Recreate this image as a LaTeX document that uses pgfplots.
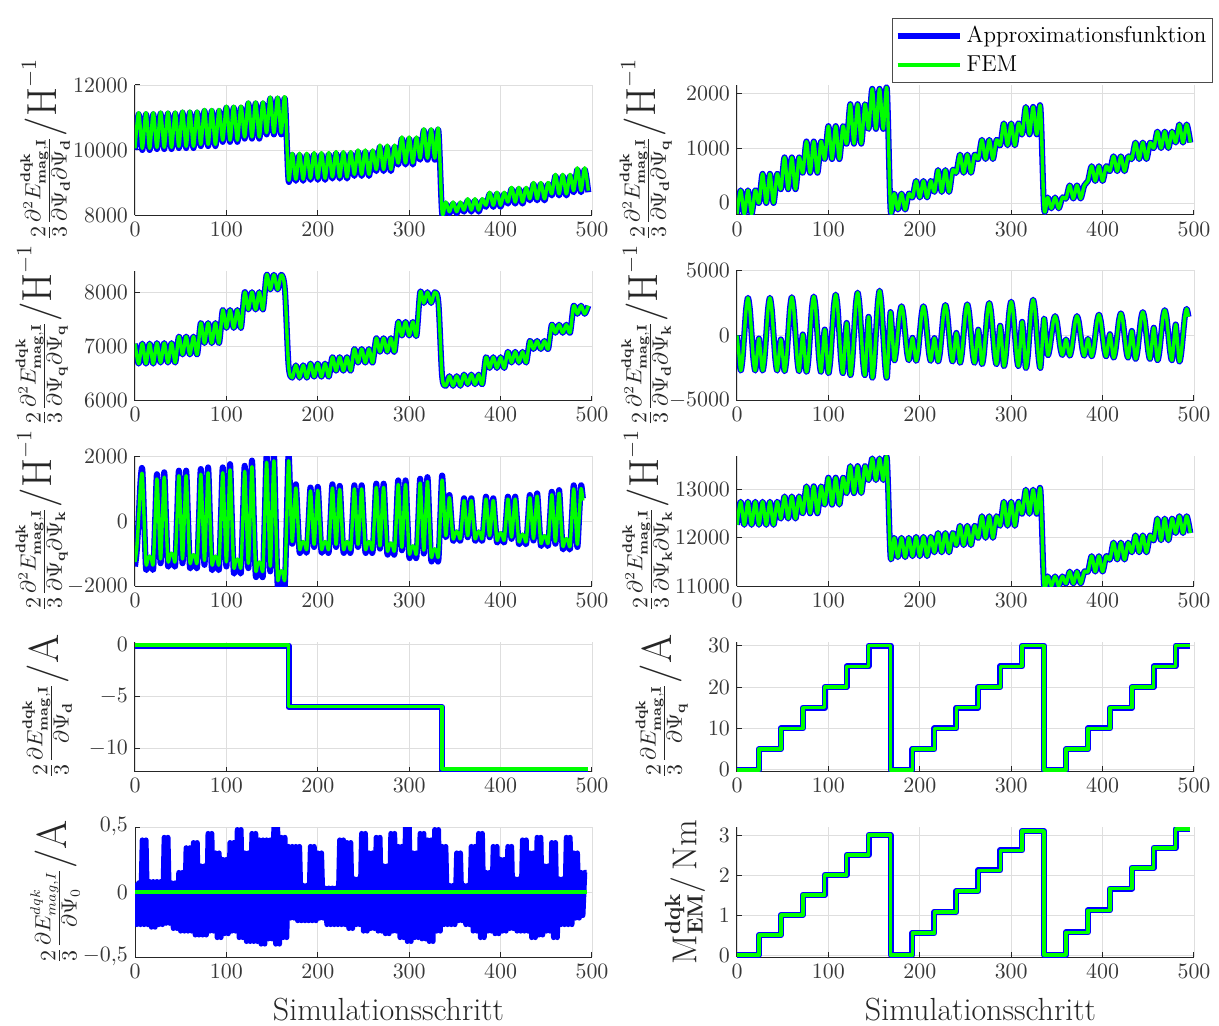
\documentclass[border=0pt]{standalone}
\usepackage{pgfplots}
\pgfplotsset{compat=1.18}
\usepackage{pgfplotstable}
\usepgfplotslibrary{groupplots}
\usetikzlibrary{calc}
\definecolor{mblue}{rgb}{0,0,1}
\definecolor{mgreen}{rgb}{0,1,0}
\definecolor{axgray}{rgb}{0.15,0.15,0.15}
\pgfplotsset{approx/.style={mblue, line width=3pt, line join=round},
  fem/.style={mgreen, line width=1.7pt, line join=round},
  ylpos/.style={ylabel style={at={($(rel axis cs:0,0.5)+(-#1,0pt)$)}, anchor=south}}}
\newcommand{\perH}{{\fontsize{21}{21}\selectfont/H}\raisebox{1.6ex}{$\scriptstyle-1$}}
\newcommand{\perA}{{\fontsize{21}{21}\selectfont/A}}

% Psi_d Psi_d
\pgfplotstableread[row sep=\\]{x a f\\
0 10000 10050\\4 11100 11150\\8 10000 10050\\12 11100 11150\\16 10000 10050\\20 11100 11150\\
24 10030 10080\\28 11120 11170\\32 10030 10080\\36 11120 11170\\40 10030 10080\\44 11120 11170\\
48 10060 10110\\52 11150 11200\\56 10060 10110\\60 11150 11200\\64 10060 10110\\68 11150 11200\\
72 10120 10170\\76 11200 11250\\80 10120 10170\\84 11200 11250\\88 10120 10170\\92 11200 11250\\
96 10250 10300\\100 11300 11350\\104 10250 10300\\108 11300 11350\\112 10250 10300\\116 11300 11350\\
120 10350 10400\\124 11430 11480\\128 10350 10400\\132 11430 11480\\136 10350 10400\\140 11430 11480\\
144 10480 10530\\148 11580 11630\\152 10480 10530\\156 11580 11630\\160 10480 10530\\164 11580 11630\\
168 9050 9100\\172 9850 9900\\176 9050 9100\\180 9850 9900\\184 9050 9100\\188 9850 9900\\
192 9080 9130\\196 9870 9920\\200 9080 9130\\204 9870 9920\\208 9080 9130\\212 9870 9920\\
216 9120 9170\\220 9900 9950\\224 9120 9170\\228 9900 9950\\232 9120 9170\\236 9900 9950\\
240 9200 9250\\244 9950 10000\\248 9200 9250\\252 9950 10000\\256 9200 9250\\260 9950 10000\\
264 9350 9400\\268 10100 10150\\272 9350 9400\\276 10100 10150\\280 9350 9400\\284 10100 10150\\
288 9550 9600\\292 10350 10400\\296 9550 9600\\300 10350 10400\\304 9550 9600\\308 10350 10400\\
312 9700 9750\\316 10600 10650\\320 9700 9750\\324 10600 10650\\328 9700 9750\\332 10600 10650\\
336 8050 8100\\340 8350 8400\\344 8050 8100\\348 8350 8400\\352 8050 8100\\356 8350 8400\\
360 8100 8150\\364 8450 8500\\368 8100 8150\\372 8450 8500\\376 8100 8150\\380 8450 8500\\
384 8250 8300\\388 8650 8700\\392 8250 8300\\396 8650 8700\\400 8250 8300\\404 8650 8700\\
408 8350 8400\\412 8800 8850\\416 8350 8400\\420 8800 8850\\424 8350 8400\\428 8800 8850\\
432 8450 8500\\436 8950 9000\\440 8450 8500\\444 8950 9000\\448 8450 8500\\452 8950 9000\\
456 8600 8650\\460 9200 9250\\464 8600 8650\\468 9200 9250\\472 8600 8650\\476 9200 9250\\
480 8700 8750\\484 9400 9450\\488 8700 8750\\492 9400 9450\\496 8700 8750\\
}\tRA

% Psi_d Psi_q
\pgfplotstableread[row sep=\\]{x a\\
0 -200\\4 230\\8 -200\\12 230\\16 -200\\20 230\\
24 0\\28 530\\32 0\\36 530\\40 0\\44 530\\
48 250\\52 830\\56 250\\60 830\\64 250\\68 830\\
72 550\\76 1120\\80 550\\84 1120\\88 550\\92 1120\\
96 800\\100 1400\\104 800\\108 1400\\112 800\\116 1400\\
120 1080\\124 1800\\128 1080\\132 1800\\136 1080\\140 1800\\
144 1350\\148 2080\\152 1350\\156 2080\\160 1350\\164 2080\\
168 -120\\172 170\\176 -120\\180 170\\184 -120\\188 170\\
192 100\\196 400\\200 100\\204 400\\208 100\\212 400\\
216 200\\220 600\\224 200\\228 600\\232 200\\236 600\\
240 550\\244 880\\248 550\\252 880\\256 550\\260 880\\
264 800\\268 1150\\272 800\\276 1150\\280 800\\284 1150\\
288 1050\\292 1450\\296 1050\\300 1450\\304 1050\\308 1450\\
312 1250\\316 1750\\320 1250\\324 1750\\328 1250\\332 1750\\
336 -100\\340 100\\344 -100\\348 100\\352 -100\\356 100\\
360 80\\364 320\\368 80\\372 320\\376 80\\380 320\\
384 400\\388 670\\392 400\\396 670\\400 400\\404 670\\
408 580\\412 850\\416 580\\420 850\\424 580\\428 850\\
432 800\\436 1100\\440 800\\444 1100\\448 800\\452 1100\\
456 1000\\460 1300\\464 1000\\468 1300\\472 1000\\476 1300\\
480 1100\\484 1430\\488 1100\\492 1430\\496 1100\\
}\tRB

% Psi_q Psi_q
\pgfplotstableread[row sep=\\]{x a\\
0 7050\\4 6680\\8 7050\\12 6680\\16 7050\\20 6680\\
24 7060\\28 6700\\32 7060\\36 6700\\40 7060\\44 6700\\
48 7180\\52 6850\\56 7180\\60 6850\\64 7180\\68 6850\\
72 7430\\76 7060\\80 7430\\84 7060\\88 7430\\92 7060\\
96 7670\\100 7340\\104 7670\\108 7340\\112 7670\\116 7340\\
120 8000\\124 7680\\128 8000\\132 7680\\136 8000\\140 7680\\
144 8320\\148 8050\\152 8320\\156 8050\\160 8320\\164 8050\\
168 6650\\172 6420\\176 6650\\180 6420\\184 6650\\188 6420\\
192 6680\\196 6440\\200 6680\\204 6440\\208 6680\\212 6440\\
216 6800\\220 6550\\224 6800\\228 6550\\232 6800\\236 6550\\
240 6950\\244 6700\\248 6950\\252 6700\\256 6950\\260 6700\\
264 7150\\268 6900\\272 7150\\276 6900\\280 7150\\284 6900\\
288 7450\\292 7200\\296 7450\\300 7200\\304 7450\\308 7200\\
312 8000\\316 7800\\320 8000\\324 7800\\328 8000\\332 7800\\
336 6450\\340 6270\\344 6450\\348 6270\\352 6450\\356 6270\\
360 6480\\364 6300\\368 6480\\372 6300\\376 6480\\380 6300\\
384 6800\\388 6600\\392 6800\\396 6600\\400 6800\\404 6600\\
408 6900\\412 6700\\416 6900\\420 6700\\424 6900\\428 6700\\
432 7100\\436 6950\\440 7100\\444 6950\\448 7100\\452 6950\\
456 7400\\460 7250\\464 7400\\468 7250\\472 7400\\476 7250\\
480 7750\\484 7600\\488 7750\\492 7600\\496 7750\\
}\tRC

% Psi_d Psi_k
\pgfplotstableread[row sep=\\]{x a\\
0 0\\2 -1350\\4 -2700\\6 -1860\\8 100\\10 2060\\12 2900\\14 2060\\16 100\\18 -1860\\20 -2700\\22 -1465\\
24 -230\\26 -1465\\28 -2700\\30 -1860\\32 100\\34 2060\\36 2900\\38 2060\\40 100\\42 -1860\\44 -2700\\46 -1500\\
48 -300\\50 -1525\\52 -2750\\54 -1895\\56 100\\58 2095\\60 2950\\62 2095\\64 100\\66 -1895\\68 -2750\\70 -1335\\
72 80\\74 -1360\\76 -2800\\78 -1930\\80 100\\82 2130\\84 3000\\86 2130\\88 100\\90 -1930\\92 -2800\\94 -1170\\
96 460\\98 -1220\\100 -2900\\102 -1992\\104 125\\106 2243\\108 3150\\110 2243\\112 125\\114 -1992\\116 -2900\\118 -965\\
120 970\\122 -1040\\124 -3050\\126 -2097\\128 125\\130 2348\\132 3300\\134 2348\\136 125\\138 -2097\\140 -3050\\142 -805\\
144 1440\\146 -905\\148 -3250\\150 -2245\\152 100\\154 2445\\156 3450\\158 2445\\160 100\\162 -2245\\164 -3250\\166 -725\\
168 1800\\170 -50\\172 -1900\\174 -1277\\176 175\\178 1628\\180 2250\\182 1628\\184 175\\186 -1277\\188 -1900\\190 -1040\\
192 -180\\194 -1065\\196 -1950\\198 -1320\\200 150\\202 1620\\204 2250\\206 1620\\208 150\\210 -1320\\212 -1950\\214 -1075\\
216 -200\\218 -1100\\220 -2000\\222 -1347\\224 175\\226 1698\\228 2350\\230 1698\\232 175\\234 -1347\\236 -2000\\238 -900\\
240 200\\242 -950\\244 -2100\\246 -1425\\248 150\\250 1725\\252 2400\\254 1725\\256 150\\258 -1425\\260 -2100\\262 -825\\
264 450\\266 -875\\268 -2200\\270 -1495\\272 150\\274 1795\\276 2500\\278 1795\\280 150\\282 -1495\\284 -2200\\286 -725\\
288 750\\290 -800\\292 -2350\\294 -1607\\296 125\\298 1858\\300 2600\\302 1858\\304 125\\306 -1607\\308 -2350\\310 -650\\
312 1050\\314 -725\\316 -2500\\318 -1712\\320 125\\322 1963\\324 2750\\326 1963\\328 125\\330 -1712\\332 -2500\\334 -600\\
336 1300\\338 -100\\340 -1500\\342 -1050\\344 0\\346 1050\\348 1500\\350 1050\\352 0\\354 -1050\\356 -1500\\358 -900\\
360 -300\\362 -925\\364 -1550\\366 -1092\\368 -25\\370 1043\\372 1500\\374 1043\\376 -25\\378 -1092\\380 -1550\\382 -900\\
384 -250\\386 -925\\388 -1600\\390 -1120\\392 0\\394 1120\\396 1600\\398 1120\\400 0\\402 -1120\\404 -1600\\406 -750\\
408 100\\410 -800\\412 -1700\\414 -1190\\416 0\\418 1190\\420 1700\\422 1190\\424 0\\426 -1190\\428 -1700\\430 -675\\
432 350\\434 -725\\436 -1800\\438 -1260\\440 0\\442 1260\\444 1800\\446 1260\\448 0\\450 -1260\\452 -1800\\454 -600\\
456 600\\458 -650\\460 -1900\\462 -1322\\464 25\\466 1373\\468 1950\\470 1373\\472 25\\474 -1322\\476 -1900\\478 -525\\
480 850\\482 -575\\484 -2000\\486 -1392\\488 25\\490 1443\\492 2050\\494 1443\\
}\tRD

% Psi_q Psi_k
\pgfplotstableread[row sep=\\]{x a f\\
0 -1400 -1260\\2 -900 -810\\4 100 90\\6 1200 1080\\8 1600 1440\\10 75 70\\12 -1450 -1305\\14 -1300 -1170\\16 -1200 -1080\\18 -1300 -1170\\20 -1450 -1305\\22 -5 -5\\
24 1440 1296\\26 70 63\\28 -1300 -1170\\30 100 90\\32 1500 1350\\34 75 68\\36 -1350 -1215\\38 -1200 -1080\\40 -1100 -990\\42 -1200 -1080\\44 -1350 -1215\\46 100 90\\
48 1550 1395\\50 125 113\\52 -1300 -1170\\54 125 113\\56 1550 1395\\58 75 68\\60 -1400 -1260\\62 -1250 -1125\\64 -1150 -1035\\66 -1250 -1125\\68 -1400 -1260\\70 100 90\\
72 1600 1440\\74 125 113\\76 -1350 -1215\\78 150 135\\80 1650 1485\\82 100 90\\84 -1450 -1305\\86 -1300 -1170\\88 -1200 -1080\\90 -1300 -1170\\92 -1450 -1305\\94 100 90\\
96 1650 1485\\98 125 113\\100 -1400 -1260\\102 175 158\\104 1750 1575\\106 100 90\\108 -1550 -1395\\110 -1400 -1260\\112 -1300 -1170\\114 -1400 -1260\\116 -1550 -1395\\118 75 68\\
120 1700 1530\\122 125 113\\124 -1450 -1305\\126 205 185\\128 1860 1674\\130 105 95\\132 -1650 -1485\\134 -1500 -1350\\136 -1400 -1260\\138 -1500 -1350\\140 -1650 -1485\\142 180 162\\
144 2010 1809\\146 230 207\\148 -1550 -1395\\150 255 230\\152 2060 1854\\154 55 50\\156 -1950 -1755\\158 -1800 -1620\\160 -1700 -1530\\162 -1800 -1620\\164 -1950 -1755\\166 55 50\\
168 2060 1854\\170 680 612\\172 -700 -630\\174 215 194\\176 1130 1017\\178 90 81\\180 -950 -855\\182 -800 -720\\184 -700 -630\\186 -800 -720\\188 -950 -855\\190 40 36\\
192 1030 927\\194 115 104\\196 -800 -720\\198 125 113\\200 1050 945\\202 50 45\\204 -950 -855\\206 -800 -720\\208 -700 -630\\210 -800 -720\\212 -950 -855\\214 90 81\\
216 1130 1017\\218 165 149\\220 -800 -720\\222 140 126\\224 1080 972\\226 65 59\\228 -950 -855\\230 -800 -720\\232 -700 -630\\234 -800 -720\\236 -950 -855\\238 75 68\\
240 1100 990\\242 150 135\\244 -800 -720\\246 150 135\\248 1100 990\\250 75 68\\252 -950 -855\\254 -800 -720\\256 -700 -630\\258 -800 -720\\260 -950 -855\\262 100 90\\
264 1150 1035\\266 150 135\\268 -850 -765\\270 150 135\\272 1150 1035\\274 75 68\\276 -1000 -900\\278 -850 -765\\280 -750 -675\\282 -850 -765\\284 -1000 -900\\286 125 113\\
288 1250 1125\\290 175 158\\292 -900 -810\\294 175 158\\296 1250 1125\\298 75 68\\300 -1100 -990\\302 -950 -855\\304 -850 -765\\306 -950 -855\\308 -1100 -990\\310 100 90\\
312 1300 1170\\314 150 135\\316 -1000 -900\\318 175 158\\320 1350 1215\\322 75 68\\324 -1200 -1080\\326 -1050 -945\\328 -950 -855\\330 -1050 -945\\332 -1200 -1080\\334 100 90\\
336 1400 1260\\338 450 405\\340 -500 -450\\342 150 135\\344 800 720\\346 100 90\\348 -600 -540\\350 -450 -405\\352 -350 -315\\354 -450 -405\\356 -600 -540\\358 50 45\\
360 700 630\\362 100 90\\364 -500 -450\\366 100 90\\368 700 630\\370 50 45\\372 -600 -540\\374 -450 -405\\376 -350 -315\\378 -450 -405\\380 -600 -540\\382 75 68\\
384 750 675\\386 125 113\\388 -500 -450\\390 100 90\\392 700 630\\394 25 23\\396 -650 -585\\398 -500 -450\\400 -400 -360\\402 -500 -450\\404 -650 -585\\406 50 45\\
408 750 675\\410 100 90\\412 -550 -495\\414 100 90\\416 750 675\\418 25 23\\420 -700 -630\\422 -550 -495\\424 -450 -405\\426 -550 -495\\428 -700 -630\\430 50 45\\
432 800 720\\434 100 90\\436 -600 -540\\438 125 113\\440 850 765\\442 50 45\\444 -750 -675\\446 -600 -540\\448 -500 -450\\450 -600 -540\\452 -750 -675\\454 75 68\\
456 900 810\\458 100 90\\460 -700 -630\\462 125 113\\464 950 855\\466 50 45\\468 -850 -765\\470 -700 -630\\472 -600 -540\\474 -700 -630\\476 -850 -765\\478 125 113\\
480 1100 990\\482 150 135\\484 -800 -720\\486 150 135\\488 1100 990\\490 700 630\\
}\tRE

% Psi_k Psi_k
\pgfplotstableread[row sep=\\]{x a\\
0 12270\\4 12750\\8 12270\\12 12750\\16 12270\\20 12750\\
24 12270\\28 12750\\32 12270\\36 12750\\40 12270\\44 12750\\
48 12400\\52 12860\\56 12400\\60 12860\\64 12400\\68 12860\\
72 12510\\76 13070\\80 12510\\84 13070\\88 12510\\92 13070\\
96 12690\\100 13250\\104 12690\\108 13250\\112 12690\\116 13250\\
120 12930\\124 13490\\128 12930\\132 13490\\136 12930\\140 13490\\
144 13200\\148 13650\\152 13200\\156 13650\\160 13200\\164 13650\\
168 11600\\172 12000\\176 11600\\180 12000\\184 11600\\188 12000\\
192 11620\\196 12020\\200 11620\\204 12020\\208 11620\\212 12020\\
216 11700\\220 12100\\224 11700\\228 12100\\232 11700\\236 12100\\
240 11850\\244 12250\\248 11850\\252 12250\\256 11850\\260 12250\\
264 12000\\268 12450\\272 12000\\276 12450\\280 12000\\284 12450\\
288 12250\\292 12750\\296 12250\\300 12750\\304 12250\\308 12750\\
312 12500\\316 13000\\320 12500\\324 13000\\328 12500\\332 13000\\
336 11000\\340 11200\\344 11000\\348 11200\\352 11000\\356 11200\\
360 11050\\364 11300\\368 11050\\372 11300\\376 11050\\380 11300\\
384 11300\\388 11620\\392 11300\\396 11620\\400 11300\\404 11620\\
408 11550\\412 11900\\416 11550\\420 11900\\424 11550\\428 11900\\
432 11700\\436 12050\\440 11700\\444 12050\\448 11700\\452 12050\\
456 11950\\460 12400\\464 11950\\468 12400\\472 11950\\476 12400\\
480 12100\\484 12450\\488 12100\\492 12450\\496 12100\\
}\tRF

% Psi_0 first derivative (approximation)
\pgfplotstableread[row sep=\\]{x a\\
0 0.07\\2 -0.25\\4 0.07\\6 -0.25\\8 0.40\\10 -0.25\\12 0.40\\14 -0.25\\
16 0.08\\18 -0.27\\20 0.08\\22 -0.27\\24 0.08\\26 -0.25\\28 0.08\\30 -0.25\\
32 0.42\\34 -0.24\\36 0.42\\38 -0.24\\40 0.07\\42 -0.28\\44 0.07\\46 -0.28\\
48 0.15\\50 -0.30\\52 0.15\\54 -0.30\\56 0.34\\58 -0.30\\60 0.34\\62 -0.30\\
64 0.38\\66 -0.33\\68 0.38\\70 -0.33\\72 0.20\\74 -0.33\\76 0.20\\78 -0.33\\
80 0.45\\82 -0.30\\84 0.45\\86 -0.30\\88 0.30\\90 -0.35\\92 0.30\\94 -0.35\\
96 0.25\\98 -0.32\\100 0.25\\102 -0.32\\104 0.38\\106 -0.30\\108 0.38\\110 -0.30\\
112 0.48\\114 -0.35\\116 0.48\\118 -0.35\\120 0.30\\122 -0.38\\124 0.30\\126 -0.38\\
128 0.45\\130 -0.38\\132 0.45\\134 -0.38\\136 0.40\\138 -0.40\\140 0.40\\142 -0.40\\
144 0.40\\146 -0.36\\148 0.40\\150 -0.36\\152 0.50\\154 -0.40\\156 0.50\\158 -0.40\\
160 0.42\\162 -0.35\\164 0.42\\166 -0.35\\168 0.35\\170 -0.20\\172 0.35\\174 -0.20\\
176 0.35\\178 -0.22\\180 0.35\\182 -0.22\\184 0.05\\186 -0.22\\188 0.05\\190 -0.22\\
192 0.35\\194 -0.22\\196 0.35\\198 -0.22\\200 0.30\\202 -0.20\\204 0.30\\206 -0.20\\
208 0.03\\210 -0.25\\212 0.03\\214 -0.25\\216 0.03\\218 -0.25\\220 0.03\\222 -0.25\\
224 0.40\\226 -0.25\\228 0.40\\230 -0.25\\232 0.38\\234 -0.28\\236 0.38\\238 -0.28\\
240 0.10\\242 -0.25\\244 0.10\\246 -0.25\\248 0.45\\250 -0.30\\252 0.45\\254 -0.30\\
256 0.30\\258 -0.28\\260 0.30\\262 -0.28\\264 0.42\\266 -0.30\\268 0.42\\270 -0.30\\
272 0.20\\274 -0.32\\276 0.20\\278 -0.32\\280 0.45\\282 -0.30\\284 0.45\\286 -0.30\\
288 0.35\\290 -0.35\\292 0.35\\294 -0.35\\296 0.50\\298 -0.38\\300 0.50\\302 -0.38\\
304 0.30\\306 -0.35\\308 0.30\\310 -0.35\\312 0.45\\314 -0.36\\316 0.45\\318 -0.36\\
320 0.40\\322 -0.38\\324 0.40\\326 -0.38\\328 0.48\\330 -0.30\\332 0.48\\334 -0.30\\
336 0.35\\338 -0.25\\340 0.35\\342 -0.25\\344 0.05\\346 -0.25\\348 0.05\\350 -0.25\\
352 0.30\\354 -0.22\\356 0.30\\358 -0.22\\360 0.05\\362 -0.25\\364 0.05\\366 -0.25\\
368 0.35\\370 -0.30\\372 0.35\\374 -0.30\\376 0.45\\378 -0.35\\380 0.45\\382 -0.35\\
384 0.15\\386 -0.30\\388 0.15\\390 -0.30\\392 0.35\\394 -0.32\\396 0.35\\398 -0.32\\
400 0.25\\402 -0.30\\404 0.25\\406 -0.30\\408 0.35\\410 -0.28\\412 0.35\\414 -0.28\\
416 0.10\\418 -0.30\\420 0.10\\422 -0.30\\424 0.40\\426 -0.30\\428 0.40\\430 -0.30\\
432 0.30\\434 -0.35\\436 0.30\\438 -0.35\\440 0.42\\442 -0.33\\444 0.42\\446 -0.33\\
448 0.20\\450 -0.30\\452 0.20\\454 -0.30\\456 0.38\\458 -0.35\\460 0.38\\462 -0.35\\
464 0.10\\466 -0.25\\468 0.10\\470 -0.25\\472 0.42\\474 -0.25\\476 0.42\\478 -0.25\\
480 0.30\\482 -0.20\\484 0.30\\486 -0.20\\488 0.15\\490 -0.18\\492 0.15\\494 0.15\\
}\tRG

\begin{document}
\begin{tikzpicture}
\begin{groupplot}[
  group style={group size=2 by 5, horizontal sep=72.5pt, vertical sep=27.75pt},
  scale only axis, width=228.5pt, height=65pt,
  xmin=0, xmax=500, xtick={0,100,200,300,400,500},
  grid=major, major grid style={line width=0.4pt, draw=black!13},
  axis x line*=bottom, axis y line*=left,
  axis line style={axgray, line width=0.5pt},
  tick style={axgray, line width=0.5pt}, tick align=inside, major tick length=2.5pt,
  tick label style={font=\fontsize{11}{12}\selectfont, text=black!78},
  ylabel style={font=\fontsize{15}{17}\selectfont, text=axgray},
  xlabel style={font=\fontsize{16}{17}\selectfont, text=axgray},
  /pgf/number format/1000 sep={}, scaled ticks=false,
]
% row 1 left
\nextgroupplot[ymin=8000, ymax=12000, ytick={8000,10000,12000}, ylpos=29pt,
  ylabel={$\frac{2}{3}\frac{\partial^2E^{\mathbf{dqk}}_{\mathbf{mag,I}}}{\partial\Psi_{\mathbf{d}}\partial\Psi_{\mathbf{d}}}$\perH}]
\coordinate (tl) at (rel axis cs:0,1);
\addplot[approx, smooth] table[x=x, y=a]{\tRA};
\addplot[fem, smooth] table[x=x, y=f]{\tRA};
% row 1 right
\nextgroupplot[ymin=-220, ymax=2150, ytick={0,1000,2000}, ylpos=29pt,
  ylabel={$\frac{2}{3}\frac{\partial^2E^{\mathbf{dqk}}_{\mathbf{mag,I}}}{\partial\Psi_{\mathbf{d}}\partial\Psi_{\mathbf{q}}}$\perH},
  legend style={at={(rel axis cs:1,1)}, anchor=south east, xshift=9.5pt, yshift=1pt,
    font=\fontsize{11.5}{13}\selectfont, draw=black!70, line width=0.5pt, fill=white,
    inner xsep=1pt, inner ysep=2pt, row sep=1pt, cells={anchor=west},
    nodes={inner xsep=2pt}},
  legend image code/.code={\draw[#1] (0pt,0pt) -- (31pt,0pt);}]
\addplot[approx, smooth] table[x=x, y=a]{\tRB};
\addlegendentry{Approximationsfunktion}
\addplot[fem, smooth] table[x=x, y=a]{\tRB};
\addlegendentry{FEM}
% row 2 left
\nextgroupplot[ymin=6000, ymax=8400, ytick={6000,7000,8000}, ylpos=30pt,
  ylabel={$\frac{2}{3}\frac{\partial^2E^{\mathbf{dqk}}_{\mathbf{mag,I}}}{\partial\Psi_{\mathbf{q}}\partial\Psi_{\mathbf{q}}}$\perH}]
\addplot[approx, smooth] table[x=x, y=a]{\tRC};
\addplot[fem, smooth] table[x=x, y=a]{\tRC};
% row 2 right
\nextgroupplot[ymin=-5000, ymax=5000, ytick={-5000,0,5000}, ylpos=29.5pt,
  ylabel={$\frac{2}{3}\frac{\partial^2E^{\mathbf{dqk}}_{\mathbf{mag,I}}}{\partial\Psi_{\mathbf{d}}\partial\Psi_{\mathbf{k}}}$\perH}]
\addplot[approx, smooth] table[x=x, y=a]{\tRD};
\addplot[fem, smooth] table[x=x, y=a]{\tRD};
% row 3 left
\nextgroupplot[ymin=-2000, ymax=2000, ytick={-2000,0,2000}, ylpos=30pt,
  ylabel={$\frac{2}{3}\frac{\partial^2E^{\mathbf{dqk}}_{\mathbf{mag,I}}}{\partial\Psi_{\mathbf{q}}\partial\Psi_{\mathbf{k}}}$\perH}]
\addplot[approx, smooth] table[x=x, y=a]{\tRE};
\addplot[fem, smooth] table[x=x, y=f]{\tRE};
% row 3 right
\nextgroupplot[ymin=11000, ymax=13700, ytick={11000,12000,13000}, ylpos=29pt,
  ylabel={$\frac{2}{3}\frac{\partial^2E^{\mathbf{dqk}}_{\mathbf{mag,I}}}{\partial\Psi_{\mathbf{k}}\partial\Psi_{\mathbf{k}}}$\perH}]
\addplot[approx, smooth] table[x=x, y=a]{\tRF};
\addplot[fem, smooth] table[x=x, y=a]{\tRF};
% row 4 left
\nextgroupplot[ymin=-12.25, ymax=0.3, ytick={-10,-5,0}, ylpos=28pt,
  ylabel={$\frac{2}{3}\frac{\partial E^{\mathbf{dqk}}_{\mathbf{mag,I}}}{\partial\Psi_{\mathbf{d}}}$\perA}]
\addplot[approx] coordinates {(0,-0.1) (168,-0.1) (168,-6.05) (336,-6.05) (336,-12.1) (496,-12.1)};
\addplot[fem] coordinates {(0,-0.05) (168,-0.05) (168,-6) (336,-6) (336,-12) (496,-12)};
% row 4 right
\nextgroupplot[ymin=-0.4, ymax=31, ytick={0,10,20,30}, ylpos=21pt,
  ylabel={$\frac{2}{3}\frac{\partial E^{\mathbf{dqk}}_{\mathbf{mag,I}}}{\partial\Psi_{\mathbf{q}}}$\perA}]
\addplot[approx] coordinates {(0,0) (24,0) (24,5) (48,5) (48,10) (72,10) (72,15) (96,15) (96,20) (120,20) (120,25) (144,25) (144,30) (168,30) (168,0) (192,0) (192,5) (216,5) (216,10) (240,10) (240,15) (264,15) (264,20) (288,20) (288,25) (312,25) (312,30) (336,30) (336,0) (360,0) (360,5) (384,5) (384,10) (408,10) (408,15) (432,15) (432,20) (456,20) (456,25) (480,25) (480,30) (496,30)};
\addplot[fem] coordinates {(0,0) (24,0) (24,5) (48,5) (48,10) (72,10) (72,15) (96,15) (96,20) (120,20) (120,25) (144,25) (144,30) (168,30) (168,0) (192,0) (192,5) (216,5) (216,10) (240,10) (240,15) (264,15) (264,20) (288,20) (288,25) (312,25) (312,30) (336,30) (336,0) (360,0) (360,5) (384,5) (384,10) (408,10) (408,15) (432,15) (432,20) (456,20) (456,25) (480,25) (480,30) (496,30)};
% row 5 left
\nextgroupplot[ymin=-0.5, ymax=0.5, ytick={-0.5,0,0.5}, yticklabels={$-0{,}5$,$0$,$0{,}5$},
  xlabel={Simulationsschritt}, xlabel style={xshift=12.5pt, yshift=-3pt}, ylpos=24pt,
  ylabel={$\frac{2}{3}\frac{\partial E^{dqk}_{mag,I}}{\partial\Psi_{0}}$\perA}]
\addplot[mblue, line width=2.6pt, line join=round] table[x=x, y=a]{\tRG};
\addplot[fem] coordinates {(0,0) (494,0)};
% row 5 right
\nextgroupplot[ymin=-0.05, ymax=3.2, ytick={0,1,2,3},
  xlabel={Simulationsschritt}, xlabel style={xshift=7.5pt, yshift=-3pt}, ylpos=12.5pt,
  ylabel={\fontsize{16}{18}\selectfont$\mathrm{M}^{\mathbf{dqk}}_{\mathbf{EM}}/\,\mathrm{Nm}$}]
\addplot[approx] coordinates {(0,0) (24,0) (24,0.5) (48,0.5) (48,1) (72,1) (72,1.5) (96,1.5) (96,2) (120,2) (120,2.5) (144,2.5) (144,3) (168,3) (168,0) (192,0) (192,0.55) (216,0.55) (216,1.08) (240,1.08) (240,1.6) (264,1.6) (264,2.12) (288,2.12) (288,2.62) (312,2.62) (312,3.1) (336,3.1) (336,0) (360,0) (360,0.57) (384,0.57) (384,1.12) (408,1.12) (408,1.66) (432,1.66) (432,2.18) (456,2.18) (456,2.68) (480,2.68) (480,3.15) (496,3.15)};
\addplot[fem] coordinates {(0,0) (24,0) (24,0.5) (48,0.5) (48,1) (72,1) (72,1.5) (96,1.5) (96,2) (120,2) (120,2.5) (144,2.5) (144,3) (168,3) (168,0) (192,0) (192,0.55) (216,0.55) (216,1.08) (240,1.08) (240,1.6) (264,1.6) (264,2.12) (288,2.12) (288,2.62) (312,2.62) (312,3.1) (336,3.1) (336,0) (360,0) (360,0.57) (384,0.57) (384,1.12) (408,1.12) (408,1.66) (432,1.66) (432,2.18) (456,2.18) (456,2.68) (480,2.68) (480,3.15) (496,3.15)};
\end{groupplot}
\pgfresetboundingbox
\path[use as bounding box] ($(tl)+(-67.5pt,42.5pt)$) rectangle ++(609.5pt,-513pt);
\end{tikzpicture}
\end{document}
